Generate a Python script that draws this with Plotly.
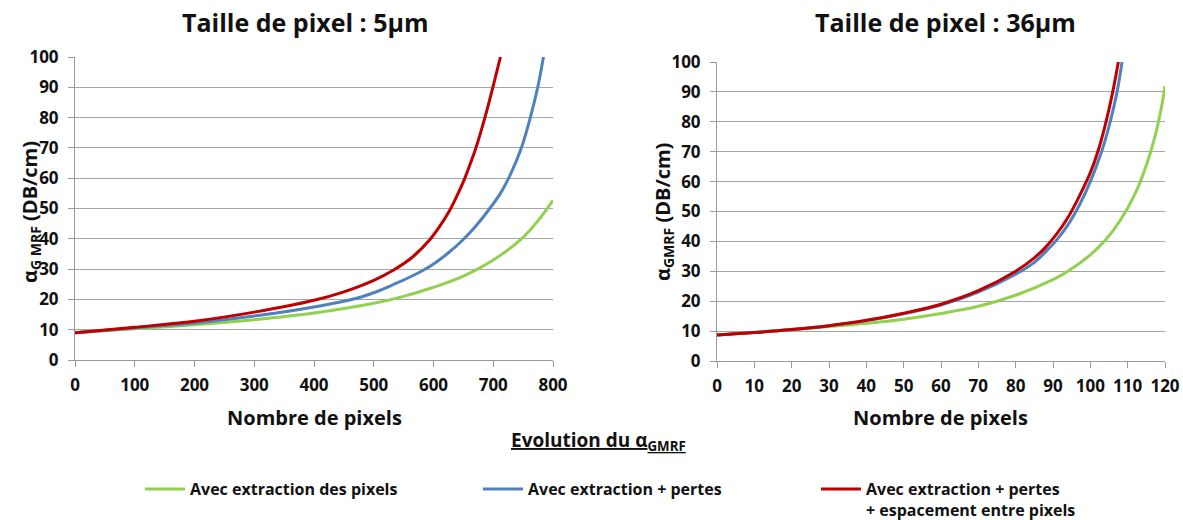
import plotly.graph_objects as go

# ---------------- data ----------------
series_names = [
    "Avec extraction des pixels",
    "Avec extraction + pertes",
    "Avec extraction + pertes<br>+ espacement entre pixels",
]
series_colors = ["#92D050", "#4F81BD", "#C00000"]

# Left panel : pixel size 5 µm
left_green_x = [0, 100, 200, 300, 400, 500, 550, 600, 650, 700, 750, 775, 800]
left_green_y = [9, 10.3, 11.6, 13.3, 15.5, 18.7, 21, 24, 27.7, 33, 40.5, 46, 52.7]
left_blue_x = [0, 100, 200, 300, 400, 470, 500, 534, 565, 597, 622, 649, 672, 696, 712, 727, 747, 762, 775, 784]
left_blue_y = [9, 10.6, 12.2, 14.5, 17.5, 20.3, 22.2, 25, 27.8, 31.3, 34.9, 39.6, 44.5, 50.5, 55, 60.5, 70, 80, 90.5, 100]
left_red_x = [0, 100, 200, 300, 400, 450, 500, 534, 565, 593, 610, 626, 640, 652, 662, 671, 686, 700, 712]
left_red_y = [9, 10.8, 12.8, 15.8, 19.7, 22.5, 26.3, 29.8, 34, 39.5, 44, 49, 54.5, 59.8, 65, 70, 80, 90.5, 100]

# Right panel : pixel size 36 µm
right_green_x = [0, 10, 20, 30, 40, 50, 60, 70, 80, 90, 94, 100, 104, 108, 112, 115, 117.5, 119, 120]
right_green_y = [8.7, 9.6, 10.5, 11.5, 12.6, 14, 15.9, 18.3, 22, 27.2, 30, 35.5, 40.4, 47, 56, 65.5, 76, 84.5, 92]
right_blue_x = [0, 10, 20, 30, 40, 50, 60, 70, 80, 85, 88, 91, 94, 97, 100, 103, 105, 107, 108.5]
right_blue_y = [8.7, 9.5, 10.5, 11.8, 13.5, 15.8, 18.7, 23, 29, 33, 36.5, 40.5, 45.5, 52, 60, 70, 78.5, 89, 100]
right_red_x = [0, 10, 20, 30, 40, 50, 60, 70, 80, 85, 88, 91, 94, 97, 100, 102, 104, 106, 107.5]
right_red_y = [8.7, 9.5, 10.5, 11.8, 13.6, 16, 19, 23.5, 30, 34.5, 38, 42.5, 48, 55, 63, 70, 79, 90, 100]

left_title = "Taille de pixel : 5µm"
right_title = "Taille de pixel : 36µm"
x_title = "Nombre de pixels"
left_y_title = "α<sub>G MRF</sub> (DB/cm)"
right_y_title = "α<sub>GMRF</sub> (DB/cm)"
caption = "<u>Evolution du α<sub>GMRF</sub></u>"

FONT = "Open Sans"
W, H = 1183, 520
INK = "#111111"

fig = go.Figure()

left_sets = [(left_green_x, left_green_y), (left_blue_x, left_blue_y), (left_red_x, left_red_y)]
right_sets = [(right_green_x, right_green_y), (right_blue_x, right_blue_y), (right_red_x, right_red_y)]

for i, (xs, ys) in enumerate(left_sets):
    fig.add_trace(go.Scatter(
        x=xs, y=ys, mode="lines", name=series_names[i],
        line=dict(color=series_colors[i], width=3, shape="spline", smoothing=1.0),
        xaxis="x", yaxis="y", showlegend=True,
    ))
for i, (xs, ys) in enumerate(right_sets):
    fig.add_trace(go.Scatter(
        x=xs, y=ys, mode="lines", name=series_names[i],
        line=dict(color=series_colors[i], width=3, shape="spline", smoothing=1.0),
        xaxis="x2", yaxis="y2", showlegend=False,
    ))

def px_x(p):
    return p / W

def px_y(p):
    return 1 - p / H

axis_common = dict(
    showline=True, linecolor="#9A9A9A", linewidth=1,
    ticks="outside", ticklen=6, tickcolor="#9A9A9A", tickwidth=1,
    tickfont=dict(family=FONT, size=17, color=INK, weight="bold"),
    zeroline=False, fixedrange=True,
)

fig.update_layout(
    width=W, height=H,
    margin=dict(l=0, r=0, t=0, b=0, autoexpand=False),
    paper_bgcolor="white", plot_bgcolor="white",
    font=dict(family=FONT, color=INK),
    xaxis=dict(domain=[px_x(75), px_x(553)], range=[0, 800], dtick=100,
               showgrid=False, anchor="y", ticklabelstandoff=4, **axis_common),
    yaxis=dict(domain=[px_y(360), px_y(57)], range=[0, 100], dtick=10,
               showgrid=True, gridcolor="#A6A6A6", gridwidth=1, anchor="x",
               ticklabelstandoff=6, **axis_common),
    xaxis2=dict(domain=[px_x(717), px_x(1165)], range=[0, 120], dtick=10,
                showgrid=False, anchor="y2", ticklabelstandoff=4, **axis_common),
    yaxis2=dict(domain=[px_y(361), px_y(62)], range=[0, 100], dtick=10,
                showgrid=True, gridcolor="#A6A6A6", gridwidth=1, anchor="x2",
                ticklabelstandoff=6, **axis_common),
    legend=dict(
        orientation="h", x=px_x(140), y=px_y(472), xanchor="left", yanchor="top",
        entrywidth=283, entrywidthmode="pixels", valign="top",
        font=dict(family=FONT, size=16, color=INK, weight="bold"),
        bgcolor="rgba(0,0,0,0)", itemwidth=40, tracegroupgap=0,
    ),
    showlegend=True,
)

ann = []
title_font = dict(family=FONT, size=25, color=INK, weight="bold")
label_font = dict(family=FONT, size=20, color=INK, weight="bold")
ann.append(dict(text=left_title, x=px_x(305), y=px_y(22), xref="paper", yref="paper",
                showarrow=False, font=title_font, xanchor="center", yanchor="middle"))
ann.append(dict(text=right_title, x=px_x(945), y=px_y(22), xref="paper", yref="paper",
                showarrow=False, font=title_font, xanchor="center", yanchor="middle"))
ann.append(dict(text=x_title, x=px_x(314), y=px_y(417), xref="paper", yref="paper",
                showarrow=False, font=label_font, xanchor="center", yanchor="middle"))
ann.append(dict(text=x_title, x=px_x(940), y=px_y(417), xref="paper", yref="paper",
                showarrow=False, font=label_font, xanchor="center", yanchor="middle"))
ann.append(dict(text=left_y_title, x=px_x(30), y=px_y(212), xref="paper", yref="paper",
                showarrow=False, font=label_font, textangle=-90,
                xanchor="center", yanchor="middle"))
ann.append(dict(text=right_y_title, x=px_x(663), y=px_y(212), xref="paper", yref="paper",
                showarrow=False, font=label_font, textangle=-90,
                xanchor="center", yanchor="middle"))
ann.append(dict(text=caption, x=px_x(598), y=px_y(441), xref="paper", yref="paper",
                showarrow=False, font=dict(family=FONT, size=19, color=INK, weight="bold"),
                xanchor="center", yanchor="middle"))
fig.update_layout(annotations=ann)

fig.write_html("out.html",
               config={"displayModeBar": False},
               post_script="document.body.style.margin='0';document.body.style.overflow='hidden';")
